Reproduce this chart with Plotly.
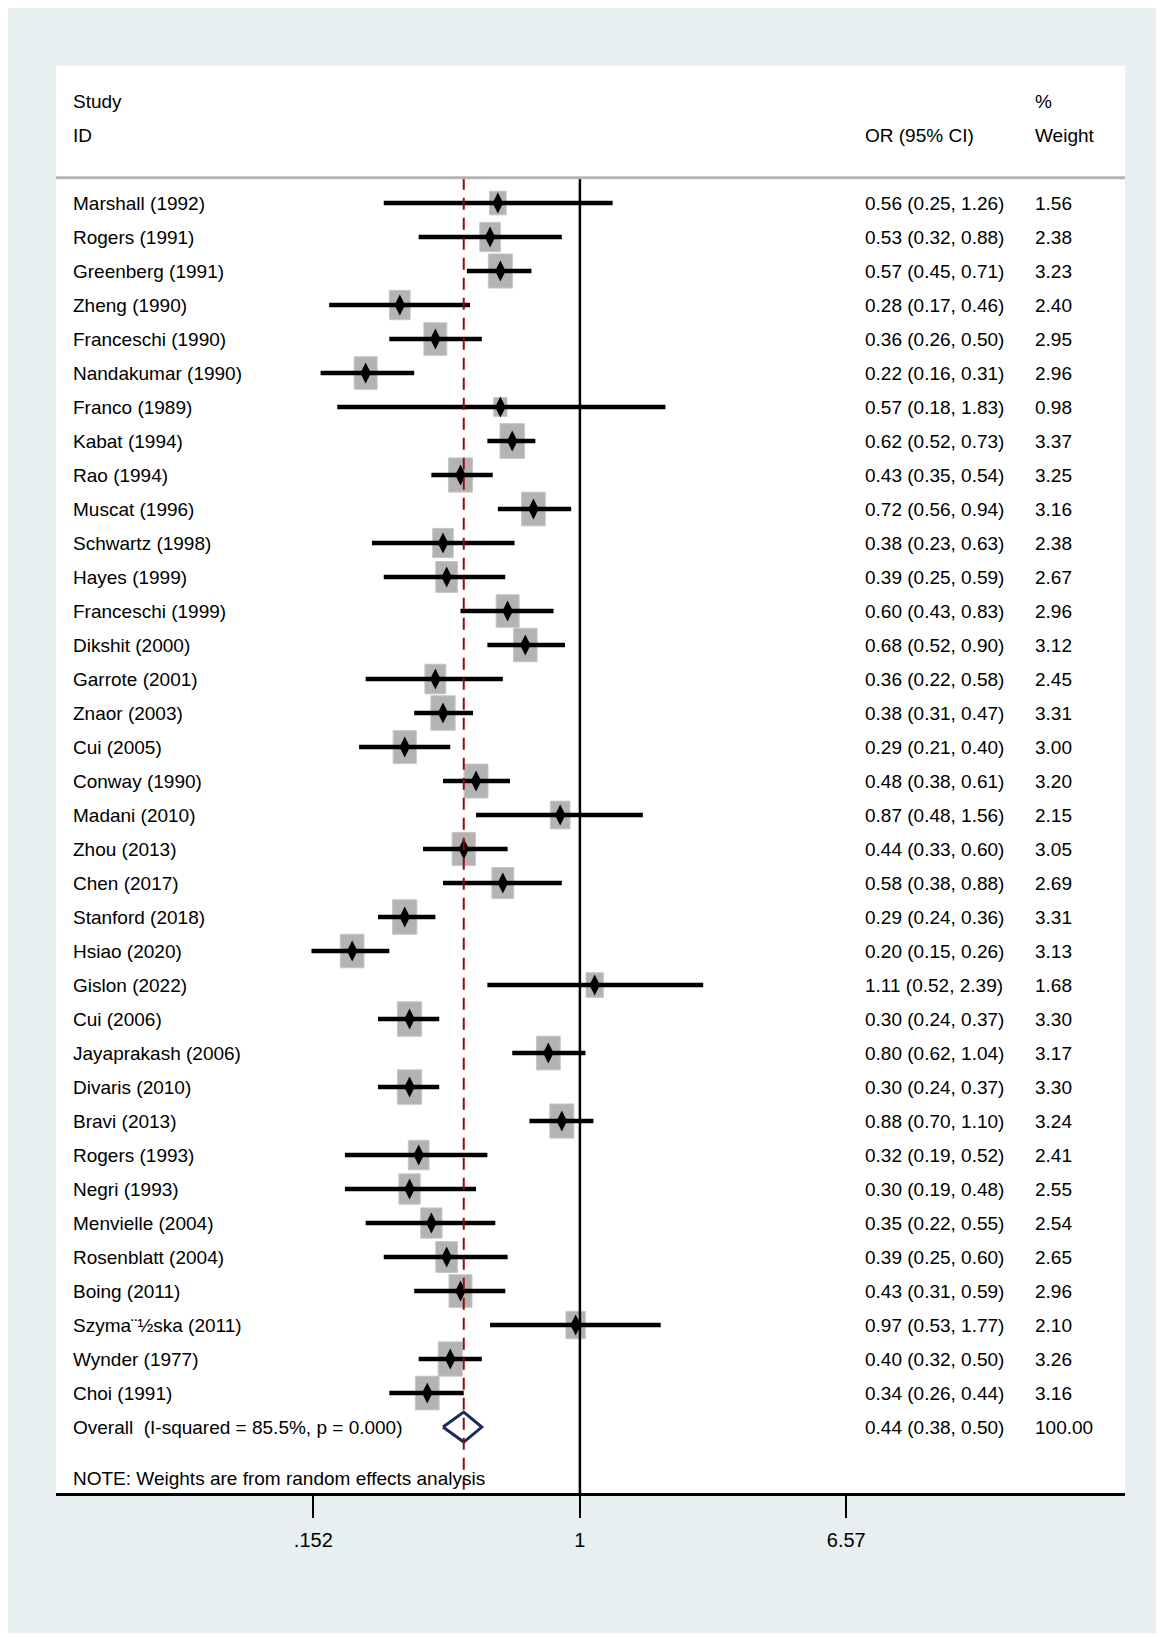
import math
import plotly.graph_objects as go

# forest plot data (odds ratios, 95% CI, % weight)
studies = [
    "Marshall (1992)", "Rogers (1991)", "Greenberg (1991)", "Zheng (1990)",
    "Franceschi (1990)", "Nandakumar (1990)", "Franco (1989)", "Kabat (1994)",
    "Rao (1994)", "Muscat (1996)", "Schwartz (1998)", "Hayes (1999)",
    "Franceschi (1999)", "Dikshit (2000)", "Garrote (2001)", "Znaor (2003)",
    "Cui (2005)", "Conway (1990)", "Madani (2010)", "Zhou (2013)",
    "Chen (2017)", "Stanford (2018)", "Hsiao (2020)", "Gislon (2022)",
    "Cui (2006)", "Jayaprakash (2006)", "Divaris (2010)", "Bravi (2013)",
    "Rogers (1993)", "Negri (1993)", "Menvielle (2004)", "Rosenblatt (2004)",
    "Boing (2011)", "Szyma\u00a8\u00bdska (2011)", "Wynder (1977)", "Choi (1991)",
]
or_vals = [0.56, 0.53, 0.57, 0.28, 0.36, 0.22, 0.57, 0.62, 0.43, 0.72, 0.38, 0.39,
           0.60, 0.68, 0.36, 0.38, 0.29, 0.48, 0.87, 0.44, 0.58, 0.29, 0.20, 1.11,
           0.30, 0.80, 0.30, 0.88, 0.32, 0.30, 0.35, 0.39, 0.43, 0.97, 0.40, 0.34]
lo_vals = [0.25, 0.32, 0.45, 0.17, 0.26, 0.16, 0.18, 0.52, 0.35, 0.56, 0.23, 0.25,
           0.43, 0.52, 0.22, 0.31, 0.21, 0.38, 0.48, 0.33, 0.38, 0.24, 0.15, 0.52,
           0.24, 0.62, 0.24, 0.70, 0.19, 0.19, 0.22, 0.25, 0.31, 0.53, 0.32, 0.26]
hi_vals = [1.26, 0.88, 0.71, 0.46, 0.50, 0.31, 1.83, 0.73, 0.54, 0.94, 0.63, 0.59,
           0.83, 0.90, 0.58, 0.47, 0.40, 0.61, 1.56, 0.60, 0.88, 0.36, 0.26, 2.39,
           0.37, 1.04, 0.37, 1.10, 0.52, 0.48, 0.55, 0.60, 0.59, 1.77, 0.50, 0.44]
weights = [1.56, 2.38, 3.23, 2.40, 2.95, 2.96, 0.98, 3.37, 3.25, 3.16, 2.38, 2.67,
           2.96, 3.12, 2.45, 3.31, 3.00, 3.20, 2.15, 3.05, 2.69, 3.31, 3.13, 1.68,
           3.30, 3.17, 3.30, 3.24, 2.41, 2.55, 2.54, 2.65, 2.96, 2.10, 3.26, 3.16]

overall_label = "Overall\u00a0 (I-squared = 85.5%, p = 0.000)"
overall_or, overall_lo, overall_hi, overall_w = 0.44, 0.38, 0.50, 100.00
note_text = "NOTE: Weights are from random effects analysis"
tick_vals = [0.152, 1, 6.57]
tick_text = [".152", "1", "6.57"]

FONT = "Liberation Sans, Arial, sans-serif"
FS = 19
# page body has an 8px margin, so the figure is drawn 8px smaller
W, H = 1159, 1629
ML, MR, MT, MB = 48, 42, 58, 144
PW = W - ML - MR
PH = H - MT - MB
X_MIN, X_MAX = 0.02466, 47.1
Y_TOP, Y_BOT = -4.03, 37.94

px_per_ln = PW / math.log(X_MAX / X_MIN)
px_per_row = PH / (Y_BOT - Y_TOP)

rows = list(range(len(studies)))
overall_row = len(studies)
note_row = overall_row + 1.5
sep_row = -0.74

fig = go.Figure()

# null line
fig.add_trace(go.Scatter(x=[1, 1], y=[sep_row, Y_BOT], mode="lines",
                         line=dict(color="black", width=2.5), hoverinfo="skip"))

# confidence intervals
ci_x, ci_y = [], []
for r, lo, hi in zip(rows, lo_vals, hi_vals):
    ci_x += [lo, hi, None]
    ci_y += [r, r, None]
fig.add_trace(go.Scatter(x=ci_x, y=ci_y, mode="lines",
                         line=dict(color="black", width=4.5), hoverinfo="skip"))

# point estimates
fig.add_trace(go.Scatter(x=or_vals, y=rows, mode="markers",
                         marker=dict(symbol="diamond-tall", size=15, color="black",
                                     line=dict(width=0)),
                         hoverinfo="skip"))

# overall diamond
dh = 15 / px_per_row
fig.add_trace(go.Scatter(
    x=[overall_lo, overall_or, overall_hi, overall_or, overall_lo],
    y=[overall_row, overall_row - dh, overall_row, overall_row + dh, overall_row],
    mode="lines", fill="toself", fillcolor="white",
    line=dict(color="#1c2a5c", width=3), hoverinfo="skip"))

# dashed line at the pooled estimate
fig.add_trace(go.Scatter(x=[overall_or, overall_or], y=[sep_row, Y_BOT], mode="lines",
                         line=dict(color="#8e0c0c", width=2, dash="12px,8px"),
                         hoverinfo="skip"))

shapes = [
    # outer light background with thin white frame
    dict(type="rect", xref="paper", yref="paper", layer="below",
         x0=-ML / PW, x1=(1148 - ML) / PW, y0=-(MB - 4) / PH, y1=(PH + MT) / PH,
         fillcolor="#e7eff1", line=dict(width=0)),
    dict(type="rect", xref="paper", yref="paper", layer="below",
         x0=0, x1=1, y0=0, y1=1, fillcolor="white", line=dict(width=0)),
    dict(type="line", xref="paper", yref="y", x0=0, x1=1, y0=sep_row, y1=sep_row,
         line=dict(color="#b4b4b4", width=3)),
]
# weight boxes (area proportional to weight)
for r, o, w in zip(rows, or_vals, weights):
    bw = 13.35 * math.sqrt(w)
    bh = bw * 1.42
    k = math.exp(bw / 2 / px_per_ln)
    hh = bh / 2 / px_per_row
    shapes.append(dict(type="rect", xref="x", yref="y", layer="below",
                       x0=o / k, x1=o * k, y0=r - hh, y1=r + hh,
                       fillcolor="#b3b3b3", line=dict(color="#c6c6c6", width=1)))

annotations = []
def txt(x, y, s):
    annotations.append(dict(x=x, y=y, xref="paper", yref="y", text=s,
                            showarrow=False, xanchor="left", yanchor="middle",
                            borderpad=0, xshift=-1,
                            font=dict(family=FONT, size=FS, color="black")))

x_name = (73 - 8 - ML) / PW
x_or = (865 - 8 - ML) / PW
x_w = (1035 - 8 - ML) / PW

txt(x_name, -3, "Study")
txt(x_name, -2, "ID")
txt(x_or, -2, "OR (95% CI)")
txt(x_w, -3, "%")
txt(x_w, -2, "Weight")

for r, s, o, lo, hi, w in zip(rows, studies, or_vals, lo_vals, hi_vals, weights):
    txt(x_name, r, s)
    txt(x_or, r, f"{o:.2f} ({lo:.2f}, {hi:.2f})")
    txt(x_w, r, f"{w:.2f}")

txt(x_name, overall_row, overall_label)
txt(x_or, overall_row, f"{overall_or:.2f} ({overall_lo:.2f}, {overall_hi:.2f})")
txt(x_w, overall_row, f"{overall_w:.2f}")
txt(x_name, note_row, note_text)

fig.update_layout(
    width=W, height=H,
    margin=dict(l=ML, r=MR, t=MT, b=MB),
    paper_bgcolor="white", plot_bgcolor="rgba(0,0,0,0)",
    showlegend=False,
    shapes=shapes, annotations=annotations,
    xaxis=dict(type="log", range=[math.log10(X_MIN), math.log10(X_MAX)],
               tickvals=tick_vals, ticktext=tick_text,
               ticks="outside", ticklen=22, tickwidth=2, tickcolor="black",
               showline=True, linewidth=3, linecolor="black",
               showgrid=False, zeroline=False, ticklabelstandoff=5,
               tickfont=dict(family=FONT, size=FS + 1, color="black")),
    yaxis=dict(range=[Y_BOT, Y_TOP], showgrid=False, zeroline=False,
               showticklabels=False, ticks=""),
)

fig.write_html("out.html")
